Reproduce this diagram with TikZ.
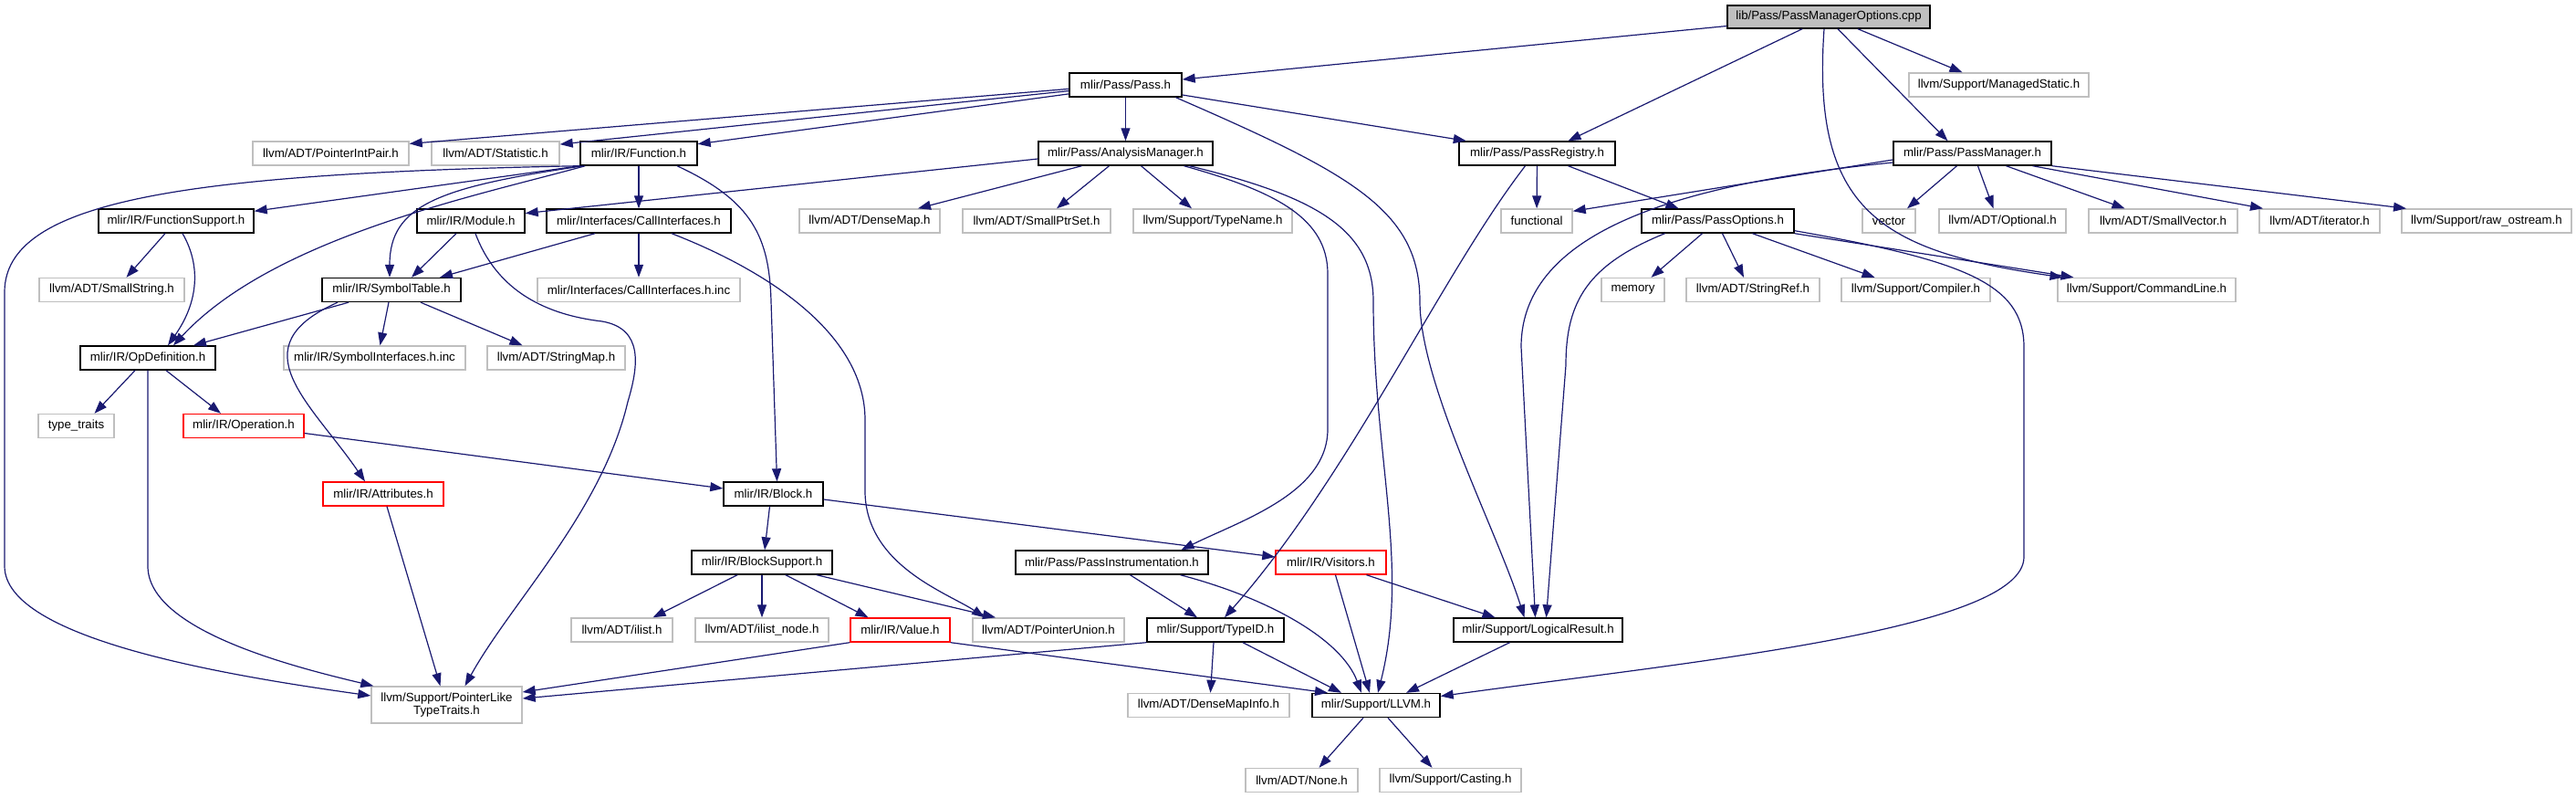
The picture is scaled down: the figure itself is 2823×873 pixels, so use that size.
\documentclass[tikz,border=0pt]{standalone}
\usepackage{fontspec}
\newfontfamily\dox{Liberation Sans}
\usetikzlibrary{arrows.meta}
\definecolor{edgeblue}{HTML}{191970}
\definecolor{extgrey}{HTML}{BFBFBF}
\definecolor{truncred}{HTML}{FF0000}
\tikzset{
  nd/.style={rectangle, line width=1.4pt, inner sep=0pt, minimum height=26pt, text=black,
    font=\dox\fontsize{13.3}{14.5}\selectfont, align=center},
  doc/.style={nd, draw=black},
  ext/.style={nd, draw=extgrey},
  trunc/.style={nd, draw=truncred},
  rootn/.style={nd, draw=black, fill=extgrey},
  dep/.style={draw=edgeblue, line width=1.2pt, -{Triangle[length=14pt,width=10pt]}}
}
\begin{document}
\begin{tikzpicture}[x=1pt,y=-1pt]
\useasboundingbox (0,0) rectangle (2823,873);
% row 0-1
\node[rootn, minimum width=222pt, minimum height=25pt] (root) at (2004,18.5) {lib/Pass/PassManagerOptions.cpp};
\node[doc, minimum width=123pt] (pass) at (1233.5,93) {mlir/Pass/Pass.h};
\node[ext, minimum width=197pt] (managed) at (2190.5,93) {llvm/Support/ManagedStatic.h};
% row 2
\node[ext, minimum width=171pt] (ptrint) at (362.5,168) {llvm/ADT/PointerIntPair.h};
\node[ext, minimum width=140pt] (statistic) at (543,168) {llvm/ADT/Statistic.h};
\node[doc, minimum width=128pt] (function) at (700,168) {mlir/IR/Function.h};
\node[doc, minimum width=191pt] (analysis) at (1233.5,168) {mlir/Pass/AnalysisManager.h};
\node[doc, minimum width=171pt] (passreg) at (1684.5,168) {mlir/Pass/PassRegistry.h};
\node[doc, minimum width=173pt] (passmgr) at (2161.5,168) {mlir/Pass/PassManager.h};
% row 3
\node[doc, minimum width=170pt] (funcsup) at (193,242) {mlir/IR/FunctionSupport.h};
\node[doc, minimum width=118pt] (module) at (516,242) {mlir/IR/Module.h};
\node[doc, minimum width=202pt] (callif) at (700,242) {mlir/Interfaces/CallInterfaces.h};
\node[ext, minimum width=154pt] (densemap) at (953,242) {llvm/ADT/DenseMap.h};
\node[ext, minimum width=162pt] (smallptr) at (1136,242) {llvm/ADT/SmallPtrSet.h};
\node[ext, minimum width=174pt] (typename) at (1329,242) {llvm/Support/TypeName.h};
\node[ext, minimum width=78pt] (functional) at (1684,242) {functional};
\node[doc, minimum width=167pt] (passopt) at (1882.5,242) {mlir/Pass/PassOptions.h};
\node[ext, minimum width=58pt] (vector) at (2070,242) {vector};
\node[ext, minimum width=139pt] (optional) at (2194.5,242) {llvm/ADT/Optional.h};
\node[ext, minimum width=163pt] (smallvec) at (2370.5,242) {llvm/ADT/SmallVector.h};
\node[ext, minimum width=132pt] (iterator) at (2542,242) {llvm/ADT/iterator.h};
\node[ext, minimum width=186pt] (rawos) at (2725,242) {llvm/Support/raw\_ostream.h};
% row 4
\node[ext, minimum width=159pt] (smallstr) at (122.5,317.5) {llvm/ADT/SmallString.h};
\node[doc, minimum width=152pt] (symtab) at (429,317.5) {mlir/IR/SymbolTable.h};
\node[ext, minimum width=222pt] (callinc) at (700,317.5) {mlir/Interfaces/CallInterfaces.h.inc};
\node[ext, minimum width=69pt] (memory) at (1789.5,317.5) {memory};
\node[ext, minimum width=146pt] (stringref) at (1921,317.5) {llvm/ADT/StringRef.h};
\node[ext, minimum width=163pt] (compiler) at (2099.5,317.5) {llvm/Support/Compiler.h};
\node[ext, minimum width=195pt] (cmdline) at (2352.5,317.5) {llvm/Support/CommandLine.h};
% row 5
\node[doc, minimum width=148pt] (opdef) at (162,392) {mlir/IR/OpDefinition.h};
\node[ext, minimum width=199pt] (symif) at (410.5,392) {mlir/IR/SymbolInterfaces.h.inc};
\node[ext, minimum width=151pt] (stringmap) at (609.5,392) {llvm/ADT/StringMap.h};
% row 6-7
\node[ext, minimum width=83pt] (typetraits) at (83.5,466.5) {type\_traits};
\node[trunc, minimum width=132pt] (operation) at (267,466.5) {mlir/IR/Operation.h};
\node[trunc, minimum width=132pt] (attributes) at (420,541) {mlir/IR/Attributes.h};
\node[doc, minimum width=109pt] (block) at (847.5,541) {mlir/IR/Block.h};
% row 8
\node[doc, minimum width=154pt] (blocksup) at (835,616) {mlir/IR/BlockSupport.h};
\node[doc, minimum width=211pt] (passinst) at (1218.5,616) {mlir/Pass/PassInstrumentation.h};
\node[trunc, minimum width=121pt] (visitors) at (1458.5,616) {mlir/IR/Visitors.h};
% row 9
\node[ext, minimum width=111pt] (ilist) at (681.5,690) {llvm/ADT/ilist.h};
\node[ext, minimum width=146pt] (ilistnode) at (835,690) {llvm/ADT/ilist\_node.h};
\node[trunc, minimum width=109pt] (value) at (986.5,690) {mlir/IR/Value.h};
\node[ext, minimum width=166pt] (ptrunion) at (1149,690) {llvm/ADT/PointerUnion.h};
\node[doc, minimum width=150pt] (typeid) at (1332,690) {mlir/Support/TypeID.h};
\node[doc, minimum width=185pt] (logres) at (1685.5,690) {mlir/Support/LogicalResult.h};
% row 10-11
\node[ext, minimum width=165pt, minimum height=40pt] (ptrlike) at (489.5,772) {llvm/Support/PointerLike\\TypeTraits.h};
\node[ext, minimum width=177pt] (densemapinfo) at (1324.5,772.5) {llvm/ADT/DenseMapInfo.h};
\node[doc, minimum width=140pt] (llvm) at (1508,772.5) {mlir/Support/LLVM.h};
\node[ext, minimum width=123pt] (none) at (1426.5,854.5) {llvm/ADT/None.h};
\node[ext, minimum width=155pt] (casting) at (1589.5,854.5) {llvm/Support/Casting.h};

% root
\draw[dep] ([yshift=-10pt]root.west) -- ([yshift=6pt]pass.east);
\draw[dep] ([xshift=-29pt]root.south) -- ([xshift=34pt]passreg.north);
\draw[dep] ([xshift=-5pt]root.south) .. controls (1985,230) and (2060,275) .. ([xshift=-92pt]cmdline.north);
\draw[dep] ([xshift=10pt]root.south) -- ([xshift=-27pt]passmgr.north);
\draw[dep] ([xshift=32pt]root.south) -- ([xshift=-40pt]managed.north);
% pass
\draw[dep] (pass.184) -- (ptrint.7);
\draw[dep] (pass.186) -- (statistic.8);
\draw[dep] (pass.189) -- (function.9);
\draw[dep] (pass) -- (analysis);
\draw[dep] (pass.-10) -- (passreg.170);
\draw[dep] ([xshift=55pt]pass.south) .. controls (1480,190) and (1556,230) .. (1556,330) .. controls (1556,420) and (1640,580) .. ([xshift=-15pt]logres.north);
% analysis
\draw[dep] ([yshift=-6pt]analysis.west) -- (module.8);
\draw[dep] ([xshift=-48pt]analysis.south) -- ([xshift=53pt]densemap.north);
\draw[dep] ([xshift=-18pt]analysis.south) -- ([xshift=22pt]smallptr.north);
\draw[dep] ([xshift=17pt]analysis.south) -- ([xshift=-23pt]typename.north);
\draw[dep] ([xshift=64pt]analysis.south) .. controls (1400,210) and (1455,240) .. (1455,300) -- (1455,470) .. controls (1455,540) and (1360,570) .. ([xshift=76pt]passinst.north);
\draw[dep] ([xshift=70pt]analysis.south) .. controls (1440,215) and (1505,250) .. (1505,330) .. controls (1505,500) and (1545,620) .. ([xshift=2pt]llvm.north);
% function
\draw[dep] (function.south west) .. controls (200,190) and (5,220) .. (5,320) -- (5,620) .. controls (5,700) and (250,740) .. ([yshift=10pt]ptrlike.west);
\draw[dep] (function.south west) -- ([yshift=-3pt]funcsup.north east);
\draw[dep] ([xshift=6pt]function.south west) .. controls (520,215) and (300,260) .. ([xshift=28pt]opdef.north);
\draw[dep] ([xshift=4pt]function.south west) .. controls (480,205) and (427,225) .. ([xshift=-2pt]symtab.north);
\draw[dep] (function) -- (callif);
\draw[dep] ([xshift=42pt]function.south) .. controls (825,220) and (843,260) .. (845,330) -- ([xshift=4pt]block.north);
% funcsup
\draw[dep] ([xshift=-12pt]funcsup.south) -- ([xshift=16pt]smallstr.north);
\draw[dep] ([xshift=7pt]funcsup.south) .. controls (220,290) and (218,330) .. ([xshift=22pt]opdef.north);
% module
\draw[dep] ([xshift=-16pt]module.south) -- ([xshift=22pt]symtab.north);
\draw[dep] ([xshift=5pt]module.south) .. controls (545,320) and (600,345) .. (660,352) .. controls (705,360) and (700,400) .. (688,440) .. controls (660,560) and (560,660) .. ([xshift=20pt]ptrlike.north);
% callif
\draw[dep] ([xshift=-48pt]callif.south) -- ([xshift=53pt]symtab.north);
\draw[dep] (callif) -- (callinc);
\draw[dep] ([xshift=36pt]callif.south) .. controls (850,300) and (948,370) .. (948,460) -- (948,540) .. controls (950,620) and (1040,650) .. ([xshift=-70pt]ptrunion.north);
% passreg
\draw[dep] (passreg) -- (functional);
\draw[dep] ([xshift=34pt]passreg.south) -- ([xshift=-43pt]passopt.north);
\draw[dep] ([xshift=-13pt]passreg.south) .. controls (1580,300) and (1480,520) .. ([xshift=10pt]typeid.north);
% passmgr
\draw[dep] ([yshift=-7pt]passmgr.west) -- ([yshift=-3pt]functional.north east);
\draw[dep] ([yshift=-10pt]passmgr.west) .. controls (1850,200) and (1667,250) .. (1667,380) -- ([xshift=-3pt]logres.north);
\draw[dep] ([xshift=-17pt]passmgr.south) -- ([xshift=20pt]vector.north);
\draw[dep] ([xshift=6pt]passmgr.south) -- ([xshift=-10pt]optional.north);
\draw[dep] ([xshift=37pt]passmgr.south) -- ([xshift=-42pt]smallvec.north);
\draw[dep] ([xshift=66pt]passmgr.south) -- ([xshift=-62pt]iterator.north);
\draw[dep] (passmgr.south east) -- ([xshift=-88pt]rawos.north);
% passopt
\draw[dep] ([xshift=-58pt]passopt.south) .. controls (1740,290) and (1716,330) .. (1716,400) -- ([xshift=9pt]logres.north);
\draw[dep] ([xshift=-17pt]passopt.south) -- ([xshift=20pt]memory.north);
\draw[dep] ([xshift=5pt]passopt.south) -- ([xshift=-10pt]stringref.north);
\draw[dep] ([xshift=38pt]passopt.south) -- ([xshift=-45pt]compiler.north);
\draw[dep] (passopt.south east) -- ([xshift=-80pt]cmdline.north);
\draw[dep] ([yshift=3pt]passopt.south east) .. controls (2150,285) and (2218,310) .. (2218,380) -- (2218,610) .. controls (2218,690) and (1850,725) .. ([yshift=10pt]llvm.east);
% symtab
\draw[dep] ([xshift=-47pt]symtab.south) -- ([xshift=50pt]opdef.north);
\draw[dep] ([xshift=-3pt]symtab.south) -- ([xshift=6pt]symif.north);
\draw[dep] ([xshift=32pt]symtab.south) -- ([xshift=-37pt]stringmap.north);
\draw[dep] ([xshift=-59pt]symtab.south) .. controls (260,380) and (340,440) .. ([xshift=-20pt]attributes.north);
% opdef
\draw[dep] ([xshift=-14pt]opdef.south) -- ([xshift=20pt]typetraits.north);
\draw[dep] ([xshift=20pt]opdef.south) -- ([xshift=-25pt]operation.north);
\draw[dep] (opdef.south) -- (162,620) .. controls (162,690) and (320,730) .. ([xshift=3pt]ptrlike.north west);
% operation, attributes, block
\draw[dep] ([yshift=-8pt]operation.east) -- ([yshift=6pt]block.west);
\draw[dep] ([xshift=4pt]attributes.south) -- ([xshift=-7pt]ptrlike.north);
\draw[dep] ([xshift=-4pt]block.south) -- ([xshift=3pt]blocksup.north);
\draw[dep] ([yshift=-6pt]block.east) -- ([yshift=6pt]visitors.west);
% blocksup
\draw[dep] ([xshift=-27pt]blocksup.south) -- ([xshift=34pt]ilist.north);
\draw[dep] (blocksup) -- (ilistnode);
\draw[dep] ([xshift=26pt]blocksup.south) -- ([xshift=-35pt]value.north);
\draw[dep] ([xshift=60pt]blocksup.south) -- ([xshift=-58pt]ptrunion.north);
% value, typeid
\draw[dep] (value.south west) -- ([yshift=14pt]ptrlike.east);
\draw[dep] (value.south east) -- ([xshift=-53pt]llvm.north);
\draw[dep] (typeid.south west) -- ([yshift=7pt]ptrlike.east);
\draw[dep] ([xshift=-2pt]typeid.south) -- ([xshift=2pt]densemapinfo.north);
\draw[dep] ([xshift=30pt]typeid.south) -- ([xshift=-38pt]llvm.north);
% passinst, visitors, logres
\draw[dep] ([xshift=20pt]passinst.south) -- ([xshift=-20pt]typeid.north);
\draw[dep] ([xshift=75pt]passinst.south) .. controls (1390,655) and (1470,700) .. ([xshift=-16pt]llvm.north);
\draw[dep] ([xshift=5pt]visitors.south) -- ([xshift=-7pt]llvm.north);
\draw[dep] ([xshift=39pt]visitors.south) -- ([xshift=-47pt]logres.north);
\draw[dep] ([xshift=-31pt]logres.south) -- ([xshift=33pt]llvm.north);
% llvm
\draw[dep] ([xshift=-14pt]llvm.south) -- ([xshift=19pt]none.north);
\draw[dep] ([xshift=13pt]llvm.south) -- ([xshift=-20pt]casting.north);
\end{tikzpicture}
\end{document}
